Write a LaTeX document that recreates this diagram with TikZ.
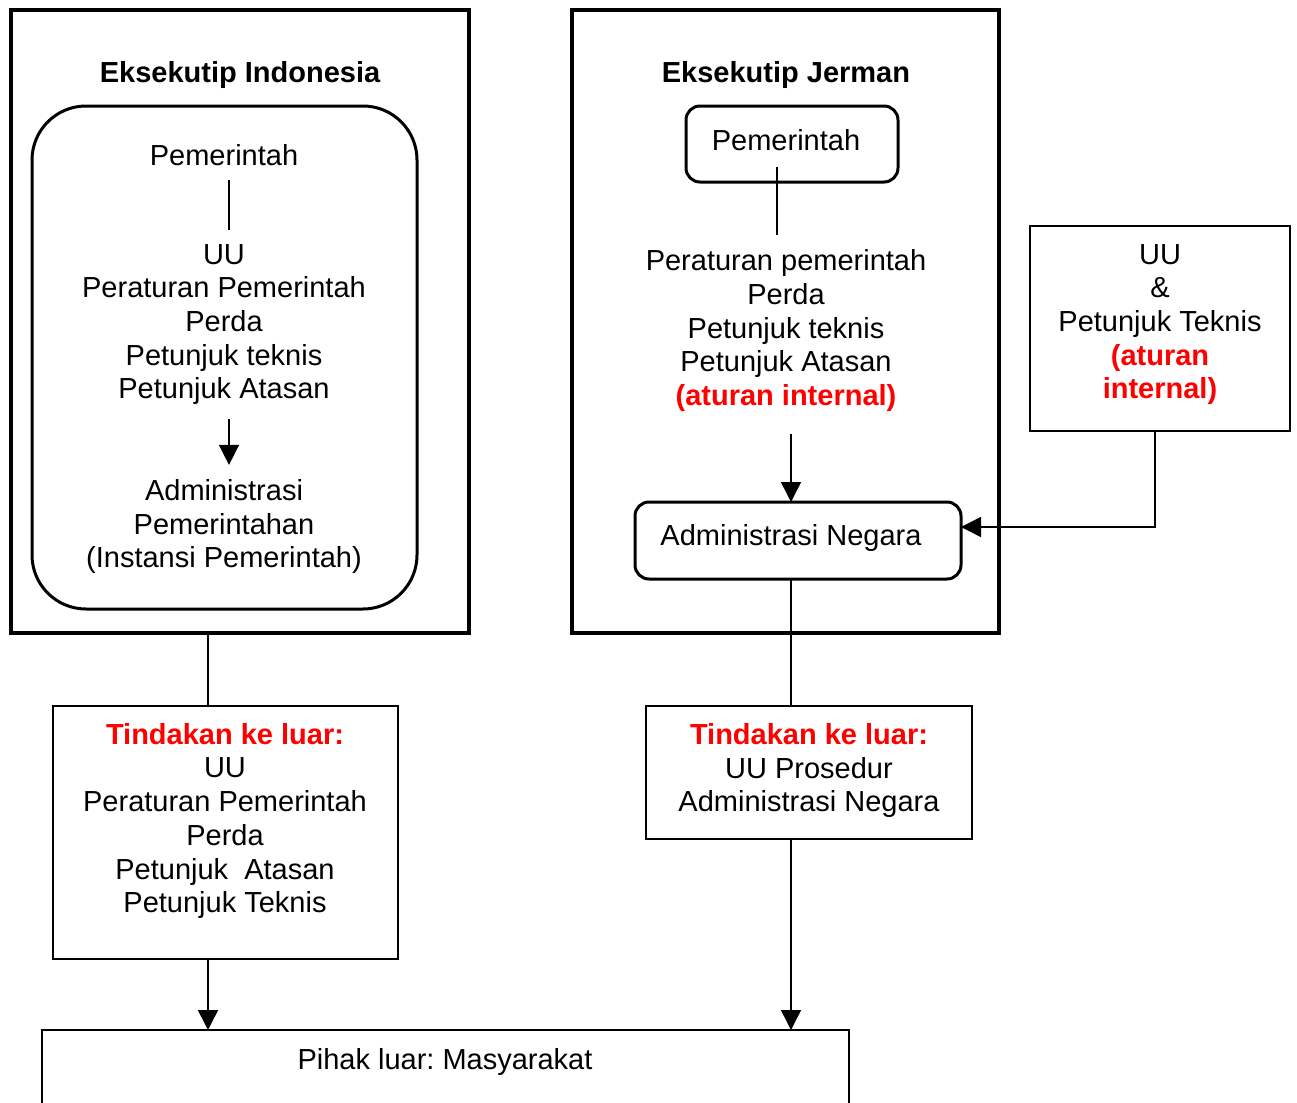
\documentclass[tikz,border=0pt]{standalone}
\usepackage{fontspec}
\setmainfont{Liberation Sans}
\usetikzlibrary{arrows.meta}
\usetikzlibrary{calc}
\frenchspacing

\newcommand\merah[1]{\textcolor{red}{\bfseries #1}}

\tikzset{
  outerbox/.style={draw, line width=2pt, inner sep=0, outer sep=0},
  roundbox/.style={draw, line width=1.5pt, outer sep=0, inner sep=0},
  thinbox/.style={draw, line width=1pt, inner sep=0, outer sep=0},
  teks/.style={align=center, inner sep=7pt},
  arr/.style={line width=0.75pt, -{Triangle[length=10pt,width=10pt]}},
  conn/.style={line width=0.75pt}
}

\begin{document}
\begin{tikzpicture}[x=0.5pt, y=-0.5pt, font=\fontsize{14.5}{16.85}\selectfont]
\useasboundingbox (0,0) rectangle (1297,1103);

% Eksekutip Indonesia
\node[outerbox, minimum width=229pt, minimum height=311.5pt] (indo) at (240,321.5) {};
\node[font=\fontsize{14.5}{16.85}\selectfont\bfseries] (indotitle) at (240,75) {Eksekutip Indonesia};
\node[roundbox, rounded corners=27pt, minimum width=192.5pt, minimum height=251.5pt] (indoin) at (224.5,357.5) {};
\node[teks] (ipem) at (224,155) {Pemerintah};
\node[teks] (iatur) at (224,324.5) {UU\\Peraturan Pemerintah\\Perda\\Petunjuk teknis\\Petunjuk Atasan};
\node[teks] (iadm) at (224,526.5) {Administrasi\\Pemerintahan\\(Instansi Pemerintah)};
\coordinate (iline) at (229,0);
\draw[conn] (ipem.south -| iline) -- (iatur.north -| iline);
\draw[arr] (iatur.south -| iline) -- (iadm.north -| iline);

% Eksekutip Jerman
\node[outerbox, minimum width=213.5pt, minimum height=311.5pt] (ger) at (785.5,321.5) {};
\node[font=\fontsize{14.5}{16.85}\selectfont\bfseries] (gertitle) at (786,75) {Eksekutip Jerman};
\node[roundbox, rounded corners=7pt, minimum width=106pt, minimum height=38pt] (gpem) at (792,144) {};
\node (gpemtxt) at (786,140) {Pemerintah};
\node[teks] (gatur) at (786,330.5) {Peraturan pemerintah\\Perda\\Petunjuk teknis\\Petunjuk Atasan\\\merah{(aturan internal)}};
\node[roundbox, rounded corners=7pt, minimum width=163pt, minimum height=38.5pt] (gadm) at (798,540.5) {};
\node (gadmtxt) at (791,538) {Administrasi Negara};
\coordinate (gpemfoot) at (777,167);
\coordinate (gline) at (791,0);
\draw[conn] (gpemfoot) -- (gatur.north -| gpemfoot);
\draw[arr] ([yshift=-4pt]gatur.south -| gline) -- (gadm.north -| gline);

% UU & Petunjuk Teknis
\node[thinbox, minimum width=130pt, minimum height=102.5pt] (uubox) at (1160,328.5) {};
\node[teks] (uutxt) at (1160,324.5) {UU\\\&\\Petunjuk Teknis\\\merah{(aturan}\\\merah{internal)}};
\coordinate (uline) at (1155,527);
\draw[arr] (uubox.south -| uline) -- (uline) -- (gadm.east |- uline);

% Tindakan ke luar
\node[thinbox, minimum width=172.5pt, minimum height=126.5pt] (ltind) at (225.5,832.5) {};
\node[teks] (ltindtxt) at (225,821) {\merah{Tindakan ke luar:}\\UU\\Peraturan Pemerintah\\Perda\\Petunjuk~~Atasan\\Petunjuk Teknis};
\node[thinbox, minimum width=163pt, minimum height=66.5pt] (rtind) at (809,772.5) {};
\node[teks] (rtindtxt) at (809,770.5) {\merah{Tindakan ke luar:}\\UU Prosedur\\Administrasi Negara};

% Pihak luar
\node[thinbox, minimum width=403.5pt, minimum height=45pt] (pihak) at (445.5,1075) {};
\node (pihaktxt) at (445,1062) {Pihak luar: Masyarakat};

\coordinate (lline) at (208,0);
\draw[conn] (indo.south -| lline) -- (ltind.north -| lline);
\draw[arr] (ltind.south -| lline) -- (pihak.north -| lline);
\draw[conn] (gadm.south -| gline) -- (rtind.north -| gline);
\draw[arr] (rtind.south -| gline) -- (pihak.north -| gline);
\end{tikzpicture}
\end{document}
